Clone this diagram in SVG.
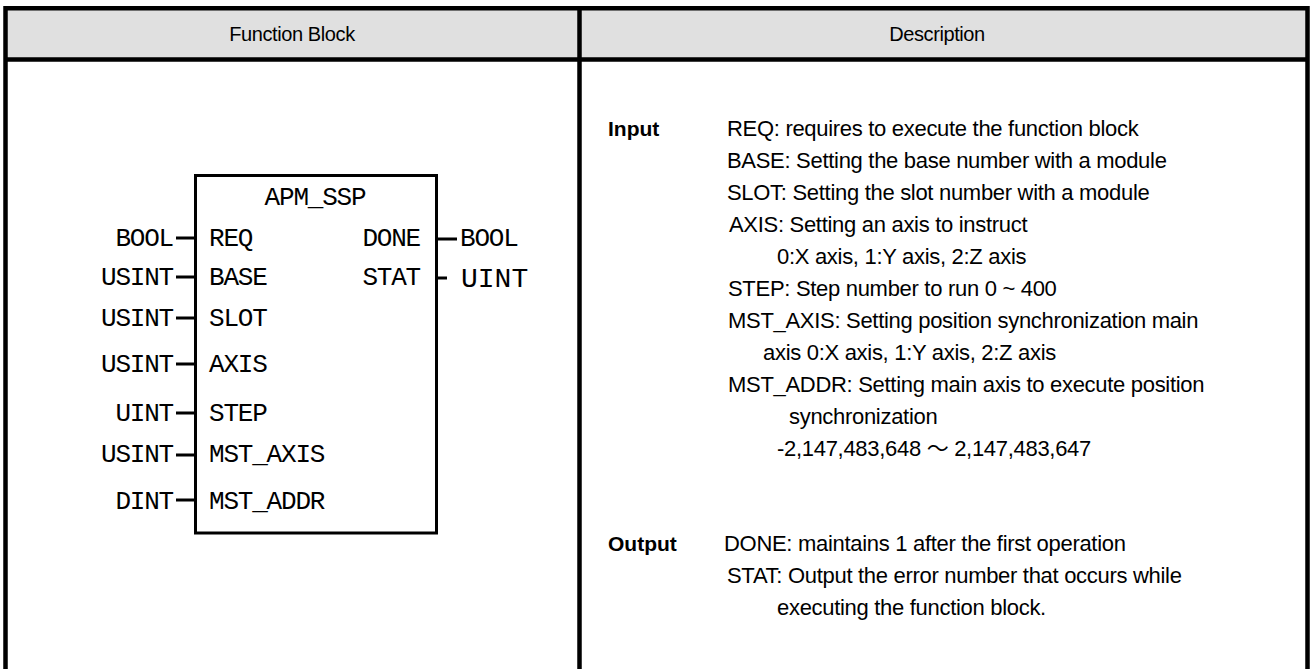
<svg xmlns="http://www.w3.org/2000/svg" width="1311" height="669" viewBox="0 0 1311 669">
<style>
.hdr{font-family:"Liberation Sans",Arial,sans-serif;font-size:20px;fill:#000;text-anchor:middle;letter-spacing:-0.4px}
.d{font-family:"Liberation Sans",Arial,sans-serif;font-size:22px;fill:#000;letter-spacing:-0.3px}
.b{font-family:"Liberation Sans",Arial,sans-serif;font-size:21px;font-weight:bold;fill:#000}
.m{font-family:"Liberation Mono","DejaVu Sans Mono",monospace;font-size:26px;letter-spacing:-1.2px;fill:#000}
.r{text-anchor:end}
.tb{stroke:#000;stroke-width:4.5;fill:none}
.stub{stroke:#000;stroke-width:3;fill:none}
</style>
<rect x="0" y="0" width="1311" height="669" fill="#fff"/>
<g id="table">
  <rect x="7" y="10" width="1299" height="48" fill="#e0e0e0"/>
  <path class="tb" d="M5.5,669 V8.2 H1307.5 V669 M3.5,59.5 H1309.5 M579.5,8 V669"/>
  <text class="hdr" x="292" y="41">Function Block</text>
  <text class="hdr" x="937" y="41">Description</text>
</g>
<g id="fb-APM_SSP">
  <rect x="195.5" y="175.5" width="241" height="357.5" fill="none" stroke="#000" stroke-width="3"/>
  <text class="m" x="315" y="205" text-anchor="middle">APM_SSP</text>
  <text class="m" x="209" y="246">REQ</text>
  <text class="m" x="209" y="285">BASE</text>
  <text class="m" x="209" y="326">SLOT</text>
  <text class="m" x="209" y="372">AXIS</text>
  <text class="m" x="209" y="421">STEP</text>
  <text class="m" x="209" y="462">MST_AXIS</text>
  <text class="m" x="209" y="509">MST_ADDR</text>
  <text class="m r" x="420" y="246">DONE</text>
  <text class="m r" x="420" y="285">STAT</text>
</g>
<g id="connectors">
  <path class="stub" d="M176,238 H195 M176,277 H195 M176,318 H195 M176,364 H195 M176,413 H195 M176,455 H195 M176,500 H195 M437,239 H457 M437,278 H447"/>
</g>
<g id="io-types">
  <text class="m r" x="173" y="246">BOOL</text>
  <text class="m r" x="173" y="285">USINT</text>
  <text class="m r" x="173" y="326">USINT</text>
  <text class="m r" x="173" y="372">USINT</text>
  <text class="m r" x="173" y="421">UINT</text>
  <text class="m r" x="173" y="462">USINT</text>
  <text class="m r" x="173" y="509">DINT</text>
  <text class="m" x="460" y="246">BOOL</text>
  <text class="m" x="461" y="287" style="font-size:28px;letter-spacing:0px">UINT</text>
</g>
<g id="description">
  <text class="b" x="608" y="136">Input</text>
  <text class="d" x="727" y="136">REQ: requires to execute the function block</text>
  <text class="d" x="727" y="168">BASE: Setting the base number with a module</text>
  <text class="d" x="727" y="200">SLOT: Setting the slot number with a module</text>
  <text class="d" x="729" y="232">AXIS: Setting an axis to instruct</text>
  <text class="d" x="777" y="264">0:X axis, 1:Y axis, 2:Z axis</text>
  <text class="d" x="728" y="296">STEP: Step number to run 0 ~ 400</text>
  <text class="d" x="728" y="328">MST_AXIS: Setting position synchronization main</text>
  <text class="d" x="763" y="360">axis 0:X axis, 1:Y axis, 2:Z axis</text>
  <text class="d" x="728" y="392">MST_ADDR: Setting main axis to execute position</text>
  <text class="d" x="789" y="424">synchronization</text>
  <text class="d" x="777" y="456">-2,147,483,648 <tspan style="font-family:'Noto Sans CJK KR','Liberation Sans',sans-serif">～</tspan> 2,147,483,647</text>
  <text class="b" x="608" y="551">Output</text>
  <text class="d" x="724" y="551">DONE: maintains 1 after the first operation</text>
  <text class="d" x="727" y="583">STAT: Output the error number that occurs while</text>
  <text class="d" x="777" y="615">executing the function block.</text>
</g>
</svg>
